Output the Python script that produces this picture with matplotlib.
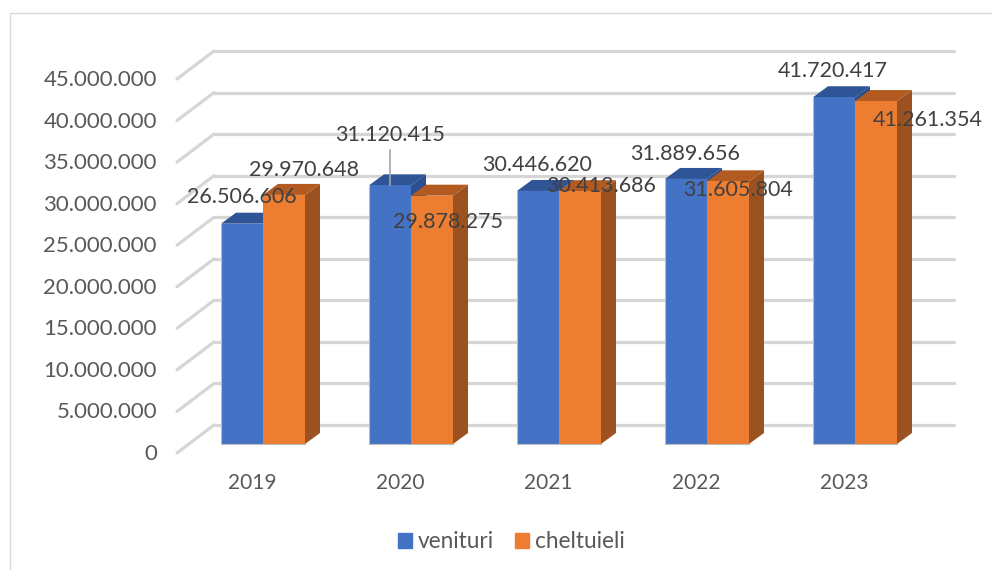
import matplotlib
matplotlib.use('Agg')
import numpy as np
import matplotlib.pyplot as plt
from matplotlib.patches import Rectangle, Patch

plt.rcParams['font.family'] = ['Lato', 'DejaVu Sans']

years = ['2019', '2020', '2021', '2022', '2023']
venituri = [26506606, 31120415, 30446620, 31889656, 41720417]
cheltuieli = [29970648, 29878275, 30413686, 31605804, 41261354]
y_ticks = [0, 5000000, 10000000, 15000000, 20000000, 25000000, 30000000, 35000000, 40000000, 45000000]


def fmt(v):
    return f'{v:,}'.replace(',', '.')


W, H = 992, 570
fig = plt.figure(figsize=(W / 100, H / 100), dpi=100)

# axes = plane of the bar fronts, in pixels: x 189..929, y 444 (zero)..70 (45M)
ax = fig.add_axes([189 / W, 1 - 444 / H, 740 / W, 374 / H])
ax.set_xlim(-0.5, 4.5)
ax.set_ylim(0, 45000000)
ax.axis('off')

# pixel -> data scale factors
px_x = 5 / 740
px_y = 45000000 / 374

BLUE, ORANGE = '#4472C4', '#ED7D31'
BLUE_TOP, BLUE_SIDE = '#2F5597', '#2C4F8F'
ORANGE_TOP, ORANGE_SIDE = '#B25A20', '#9C5220'
GRID = '#D6D6D6'
bar_w = 42 * px_x
ddx, ddy = 15 * px_x, 11 * px_y

# back wall gridlines and the slanted side wall
for v in y_ticks:
    ax.plot([-0.5 + 25 * px_x, 4.5 + 25 * px_x], [v + 19 * px_y] * 2, color=GRID, lw=2.3,
            clip_on=False, zorder=1, solid_capstyle='round')
    ax.plot([-0.5 - 12 * px_x, -0.5 + 25 * px_x], [v - 9 * px_y, v + 19 * px_y], color=GRID, lw=2.3,
            clip_on=False, zorder=1, solid_capstyle='round')


def bar3d(x0, v, front, top, side, z):
    x1 = x0 + bar_w
    ax.fill([x1, x1 + ddx, x1 + ddx, x1], [0, ddy, v + ddy, v], color=side, lw=0, zorder=z, clip_on=False)
    ax.fill([x0, x0 + ddx, x1 + ddx, x1], [v, v + ddy, v + ddy, v], color=top, lw=0, zorder=z, clip_on=False)
    ax.bar(x0, v, bar_w, align='edge', color=front, linewidth=0, zorder=z + 0.1, clip_on=False)


for i in range(len(years)):
    bar3d(i - bar_w, venituri[i], BLUE, BLUE_TOP, BLUE_SIDE, 2 + i)
    bar3d(i, cheltuieli[i], ORANGE, ORANGE_TOP, ORANGE_SIDE, 2.5 + i)
    # thin grey rim on the left and bottom of each pair
    ax.plot([i - bar_w, i - bar_w, i + bar_w], [venituri[i], 0, 0], color='#BDBDBD', lw=0.8, zorder=3 + i,
            clip_on=False)

# label offsets from the top centre of each bar, pixels
off_a = [(0, 27), (0, 50), (-1, 26), (-1, 25), (-1, 26)]
off_b = [(20, 25), (16, -26), (21, 5), (10, -9), (52, -19)]
LABEL = '#404040'
for i in range(len(years)):
    ax.annotate(fmt(venituri[i]), (i - bar_w / 2, venituri[i]), xytext=off_a[i], textcoords='offset pixels',
                ha='center', va='center', fontsize=15.5, color=LABEL, zorder=20, annotation_clip=False)
    ax.annotate(fmt(cheltuieli[i]), (i + bar_w / 2, cheltuieli[i]), xytext=off_b[i], textcoords='offset pixels',
                ha='center', va='center', fontsize=15.5, color=LABEL, zorder=20, annotation_clip=False)

# leader line of the 2020 label
ax.plot([1 - bar_w / 2] * 2, [venituri[1], venituri[1] + 35 * px_y], color='#A6A6A6', lw=1.2, zorder=19,
        clip_on=False)

# axis labels
for v in y_ticks:
    ax.annotate(fmt(v), (-0.5, v), xytext=(-32, -10), textcoords='offset pixels', ha='right',
                va='center', fontsize=16, color='#595959', annotation_clip=False)
for i, y in enumerate(years):
    ax.annotate(y, (i, 0), xytext=(-11, -39), textcoords='offset pixels', ha='center', va='center',
                fontsize=15, color='#595959', annotation_clip=False)

# outer frame, only the top and left edges are inside the picture
fig.add_artist(Rectangle((9.5 / W, -0.1), 1.2, 1 - 13.5 / H + 0.1, transform=fig.transFigure, fill=False,
                         edgecolor='#D9D9D9', linewidth=1))

fig.legend(handles=[Patch(color=BLUE, label='venituri'), Patch(color=ORANGE, label='cheltuieli')],
           loc='center', bbox_to_anchor=(511 / W, 1 - 542 / H), ncols=2, frameon=False, fontsize=16.3,
           labelcolor='#595959', handlelength=0.62, handleheight=0.62, handletextpad=0.25, columnspacing=0.95)

fig.savefig('out.png', dpi=100, facecolor='white')
